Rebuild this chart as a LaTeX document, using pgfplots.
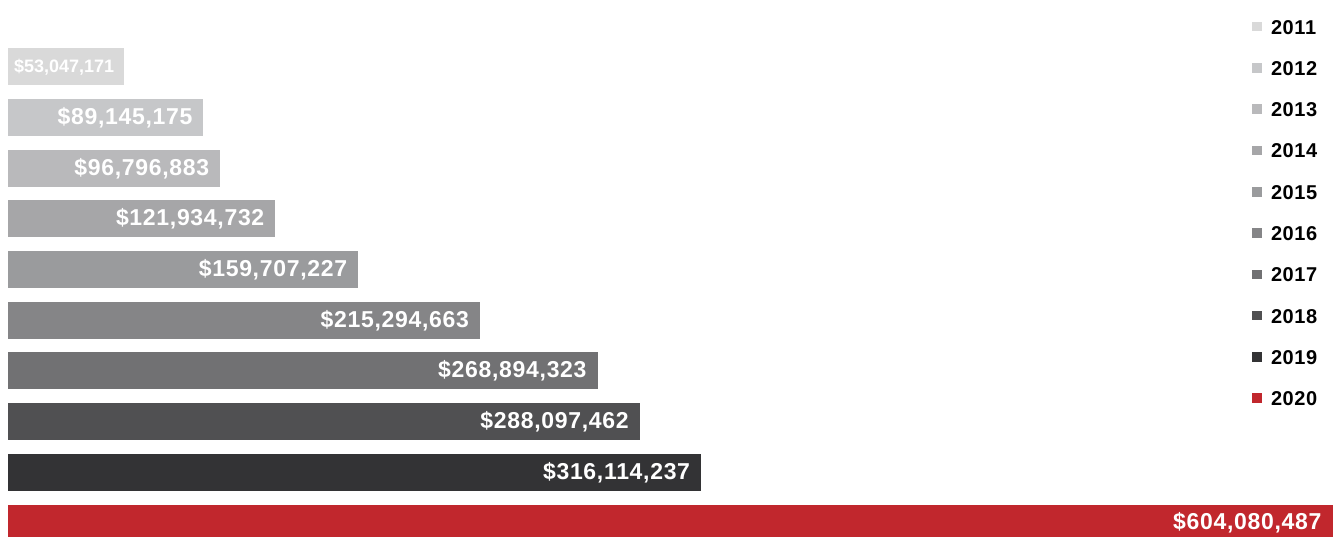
\documentclass[border=0pt]{standalone}
\usepackage{pgfplots}
\pgfplotsset{compat=1.18}
\usepackage{fontspec}
\setmainfont{Liberation Sans}
\definecolor{c2011}{HTML}{D9D9D9}
\definecolor{c2012}{HTML}{C6C7C9}
\definecolor{c2013}{HTML}{B9B9BB}
\definecolor{c2014}{HTML}{A6A6A8}
\definecolor{c2015}{HTML}{9A9B9D}
\definecolor{c2016}{HTML}{858587}
\definecolor{c2017}{HTML}{717173}
\definecolor{c2018}{HTML}{505052}
\definecolor{c2019}{HTML}{333335}
\definecolor{c2020}{HTML}{C1272D}
\newcommand{\lblfont}{\fontsize{11.5}{13}\selectfont\bfseries\addfontfeatures{LetterSpace=3}}
\newcommand{\legfont}{\fontsize{10}{12}\selectfont\bfseries\addfontfeatures{LetterSpace=3}}

\begin{document}
\begin{tikzpicture}
\begin{axis}[
  scale only axis, width=666.5pt, height=268pt,
  hide axis,
  xbar, bar width=18.5pt, bar shift=0pt,
  y dir=reverse,
  xmin=-3.65e6, xmax=604.3e6,
  ymin=-1.32, ymax=9.256,
  point meta=explicit symbolic,
  nodes near coords,
  every node near coord/.append style={anchor=east, xshift=-2pt,
    text=white, font=\lblfont},
  legend image code/.code={\fill[#1] (0pt,-2.4pt) rectangle (4.8pt,2.4pt);
    \path (8.5pt,0pt);},
  legend style={draw=none, fill=none, font=\legfont,
    at={(axis description cs:0.99,0.969)}, anchor=north east,
    row sep=11.15pt, inner sep=0pt,
    nodes={inner sep=1pt, text height=7.5pt, text depth=0pt},
    cells={anchor=west}},
]
  \addplot[draw=none, fill=c2011,
    every node near coord/.append style={xshift=0.5pt,
      font=\fontsize{9}{10}\selectfont\bfseries}]
    coordinates {(53047171,0) [{\$53,047,171}]};
  \addplot[draw=none, fill=c2012] coordinates {(89145175,1) [{\$89,145,175}]};
  \addplot[draw=none, fill=c2013] coordinates {(96796883,2) [{\$96,796,883}]};
  \addplot[draw=none, fill=c2014] coordinates {(121934732,3) [{\$121,934,732}]};
  \addplot[draw=none, fill=c2015] coordinates {(159707227,4) [{\$159,707,227}]};
  \addplot[draw=none, fill=c2016] coordinates {(215294663,5) [{\$215,294,663}]};
  \addplot[draw=none, fill=c2017] coordinates {(268894323,6) [{\$268,894,323}]};
  \addplot[draw=none, fill=c2018] coordinates {(288097462,7) [{\$288,097,462}]};
  \addplot[draw=none, fill=c2019] coordinates {(316114237,8) [{\$316,114,237}]};
  \addplot[draw=none, fill=c2020] coordinates {(604080487,9) [{\$604,080,487}]};
  \legend{2011,2012,2013,2014,2015,2016,2017,2018,2019,2020}
\end{axis}
\pgfresetboundingbox
\path (current axis.south west) rectangle (current axis.north east);
\end{tikzpicture}
\end{document}
